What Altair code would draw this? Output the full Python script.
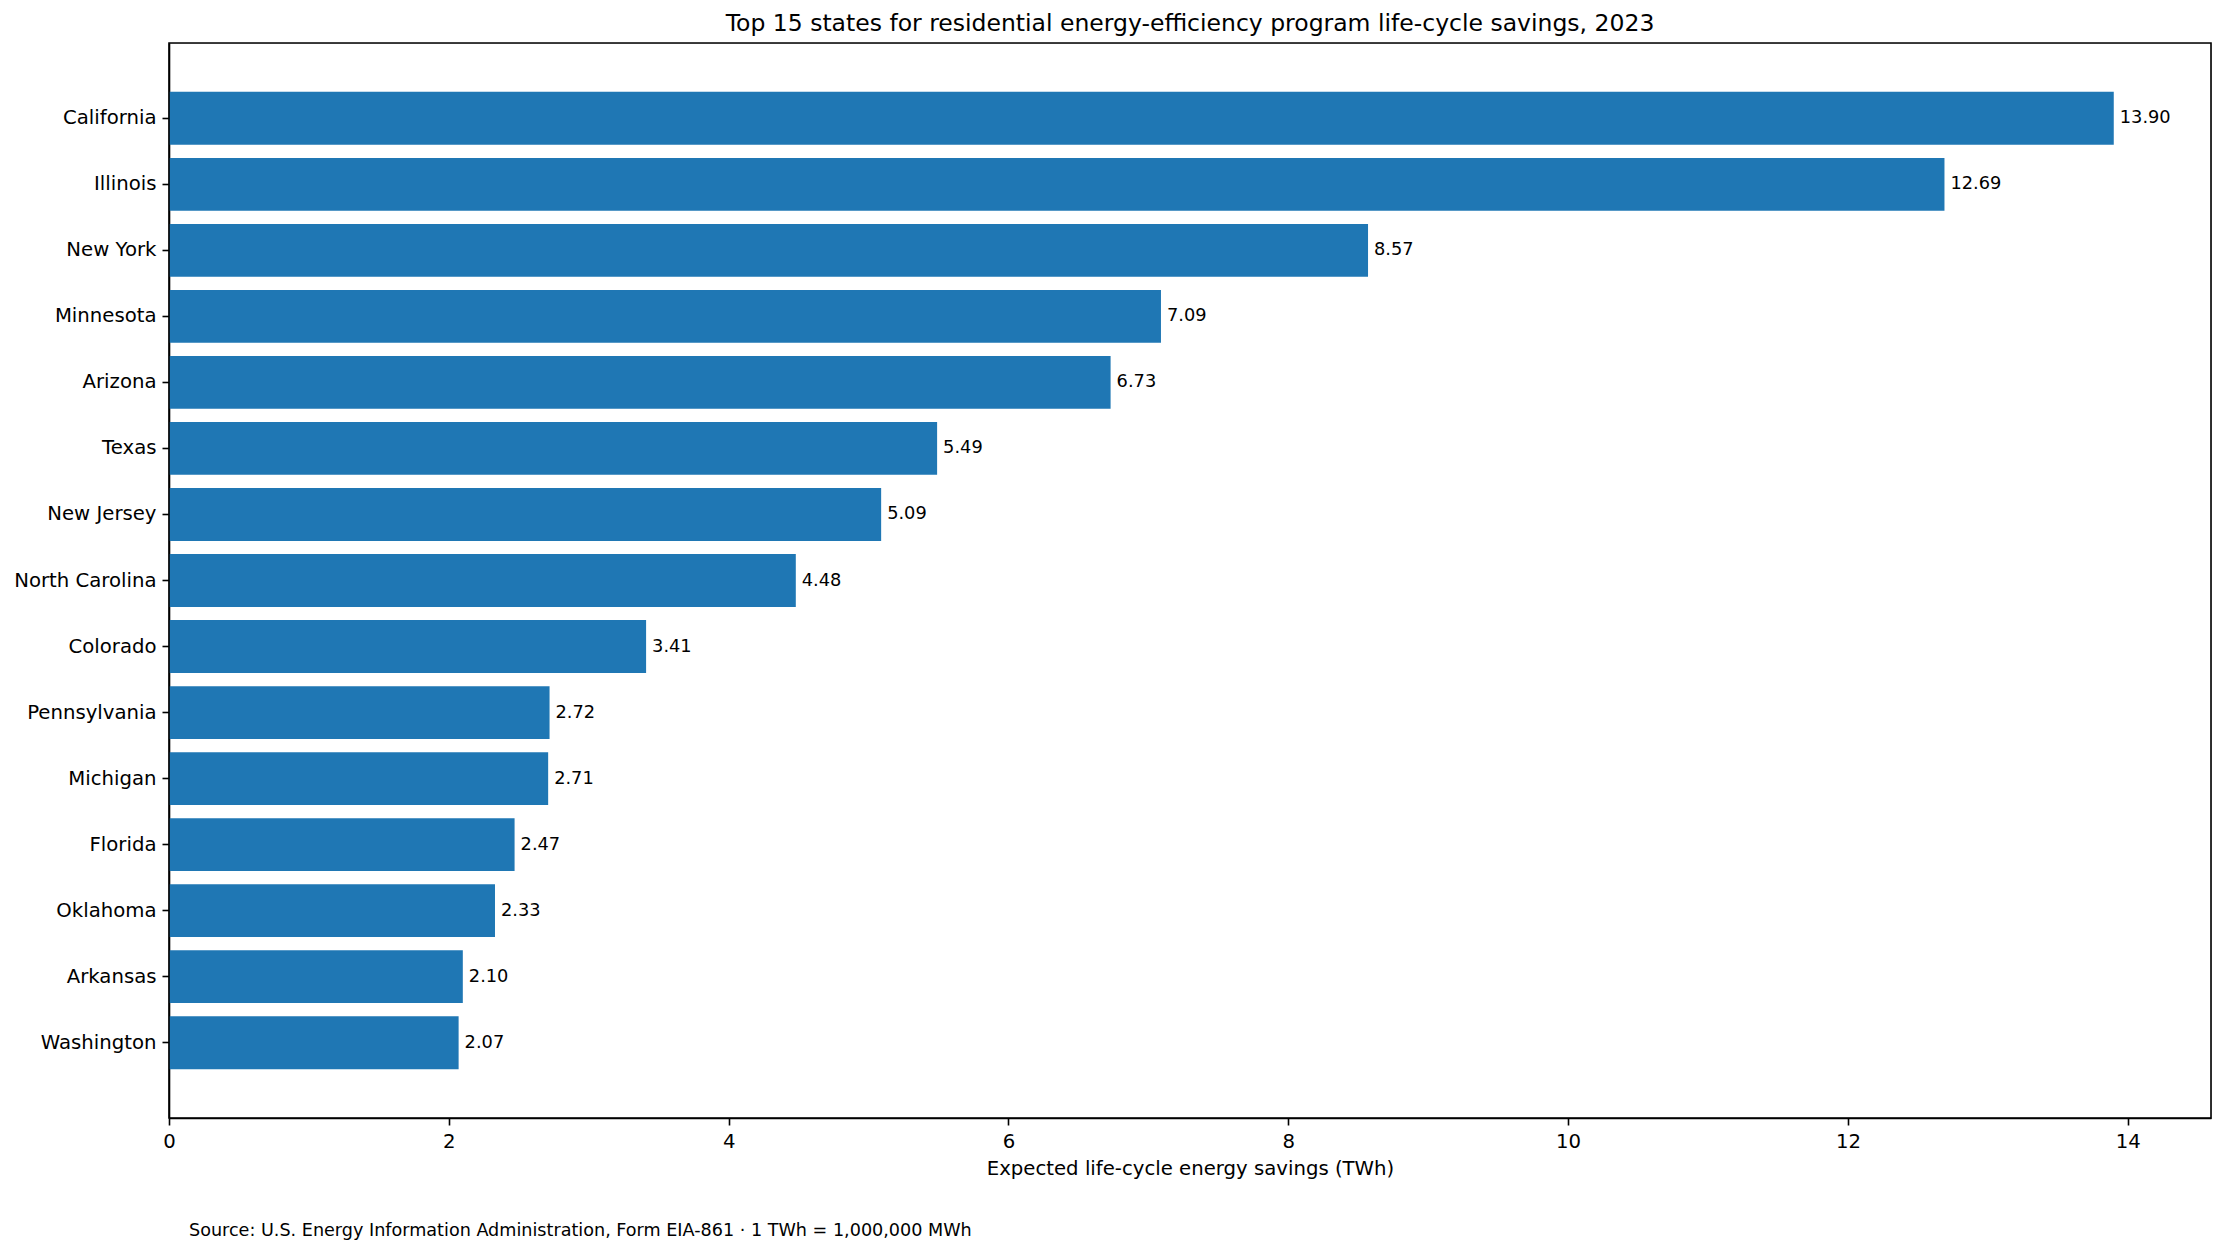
import altair as alt
import pandas as pd

states = ["California", "Illinois", "New York", "Minnesota", "Arizona", "Texas",
          "New Jersey", "North Carolina", "Colorado", "Pennsylvania", "Michigan",
          "Florida", "Oklahoma", "Arkansas", "Washington"]
savings = [13.90, 12.69, 8.57, 7.09, 6.73, 5.49, 5.09, 4.48, 3.41, 2.72, 2.71,
           2.47, 2.33, 2.10, 2.07]
x_ticks = [0, 2, 4, 6, 8, 10, 12, 14]
title_text = "Top 15 states for residential energy-efficiency program life-cycle savings, 2023"
x_title = "Expected life-cycle energy savings (TWh)"
source_text = "Source: U.S. Energy Information Administration, Form EIA-861 · 1 TWh = 1,000,000 MWh"

df = pd.DataFrame({"state": states, "savings": savings})
FONT = "DejaVu Sans"
W, H = 2042, 1075

x_enc = alt.X("savings:Q",
              scale=alt.Scale(domain=[0, 14.595], nice=False, zero=True),
              axis=alt.Axis(values=x_ticks, format="d", title=x_title, grid=False,
                            labelFontSize=19.7, titleFontSize=19.7,
                            labelFont=FONT, titleFont=FONT,
                            labelColor="black", titleColor="black",
                            titleFontWeight="normal",
                            tickSize=7, tickWidth=1.6, tickColor="black",
                            domainColor="black", domainWidth=1.6,
                            labelPadding=6, titlePadding=8, labelFlush=False))
y_enc = alt.Y("state:N", sort=states,
              scale=alt.Scale(paddingInner=0.2, paddingOuter=0.74),
              axis=alt.Axis(title=None, grid=False,
                            labelFontSize=19.7, labelFont=FONT, labelColor="black",
                            tickSize=7, tickWidth=1.6, tickColor="black",
                            domainColor="black", domainWidth=1.6,
                            labelPadding=6))

bars = alt.Chart(df).mark_bar(color="#1f77b4").encode(x=x_enc, y=y_enc)
labels = alt.Chart(df).mark_text(align="left", baseline="middle", dx=6,
                                 fontSize=17.8, font=FONT, color="black").encode(
    x="savings:Q", y=alt.Y("state:N", sort=states),
    text=alt.Text("savings:Q", format=".2f"))
frame = alt.Chart(pd.DataFrame({"k": [0]})).mark_rect(
    fill=None, filled=False, stroke="black", strokeWidth=1.6).encode(
    x=alt.value(0), x2=alt.value(W), y=alt.value(0), y2=alt.value(H))
source = alt.Chart(pd.DataFrame({"t": [source_text]})).mark_text(
    align="left", baseline="middle", fontSize=17.6, font=FONT, color="black").encode(
    x=alt.value(20), y=alt.value(1188), text="t:N")

chart = alt.layer(bars, labels, frame, source).properties(
    width=W, height=H,
    title=alt.TitleParams(title_text, fontSize=23.5, font=FONT, fontWeight="normal",
                          color="black", anchor="middle", offset=7),
    padding={"left": 161, "top": 35, "right": 7, "bottom": 129},
    autosize=alt.AutoSizeParams(type="none"),
).configure_view(stroke=None).configure(background="white")

chart.save("out.html", embed_options={"renderer": "svg", "actions": False})
